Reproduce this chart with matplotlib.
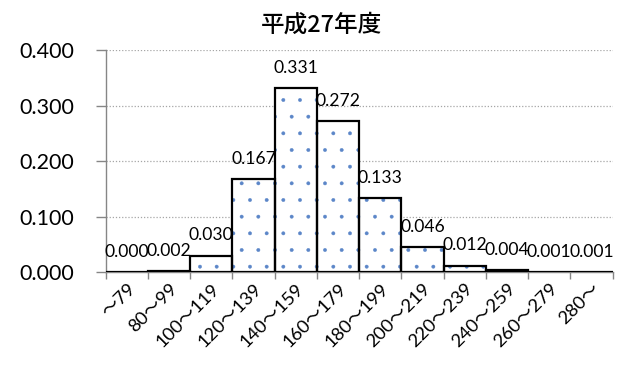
import matplotlib
matplotlib.use("Agg")
import matplotlib.pyplot as plt
import numpy as np

plt.rcParams['font.family'] = ['Lato', 'Noto Sans CJK JP', 'DejaVu Sans']
plt.rcParams['hatch.linewidth'] = 0.3

title = "平成27年度"
classes = ["～79", "80～99", "100～119", "120～139", "140～159", "160～179",
           "180～199", "200～219", "220～239", "240～259", "260～279", "280～"]
ratio = [0.000, 0.002, 0.030, 0.167, 0.331, 0.272,
         0.133, 0.046, 0.012, 0.004, 0.001, 0.001]
yticks = [0.0, 0.1, 0.2, 0.3, 0.4]

fig = plt.figure(figsize=(6.2, 3.65), dpi=100)
ax = fig.add_axes([0.1705, 0.254, 0.8177, 0.609])

x = np.arange(len(classes))
# dotted fill first, then the black outlines on top
ax.bar(x, ratio, width=1.0, facecolor='white', edgecolor='#5b86c8',
       hatch='.', linewidth=0, zorder=2)
ax.bar(x, ratio, width=1.0, fill=False, edgecolor='black',
       linewidth=1.6, zorder=3)

for xi, v in zip(x, ratio):
    ax.annotate(f"{v:.3f}", (xi, v), xytext=(0, 14.5), textcoords='offset points',
                ha='center', va='center', fontsize=12.6, zorder=4)

ax.set_xlim(-0.5, len(classes) - 0.5)
ax.set_ylim(0, 0.4)
ax.set_yticks(yticks)
ax.set_yticklabels([f"{t:.3f}" for t in yticks], fontsize=15.5)
ax.yaxis.grid(True, linestyle=(0, (1, 1.5)), color='#a6a6a6', linewidth=0.9)
ax.set_axisbelow(True)

ax.set_xticks(np.arange(len(classes) + 1) - 0.5)
ax.set_xticklabels([])
ax.set_xticks(x, minor=True)
ax.set_xticklabels(classes, minor=True, rotation=45, ha='right', va='top',
                   rotation_mode='anchor', fontsize=13.2)
ax.tick_params(axis='x', which='minor', length=0, pad=6)
ax.tick_params(axis='x', which='major', length=5, color='#868686', width=1)
ax.tick_params(axis='y', length=7, color='#868686', width=1, pad=16)

for side in ['top', 'right']:
    ax.spines[side].set_visible(False)
for side in ['left', 'bottom']:
    ax.spines[side].set_color('#868686')
    ax.spines[side].set_linewidth(1.0)

fig.text(0.518, 0.93, title, ha='center', va='center', fontsize=17,
         fontweight='medium', family=['Noto Sans CJK JP'])

fig.savefig("out.png", dpi=100)
